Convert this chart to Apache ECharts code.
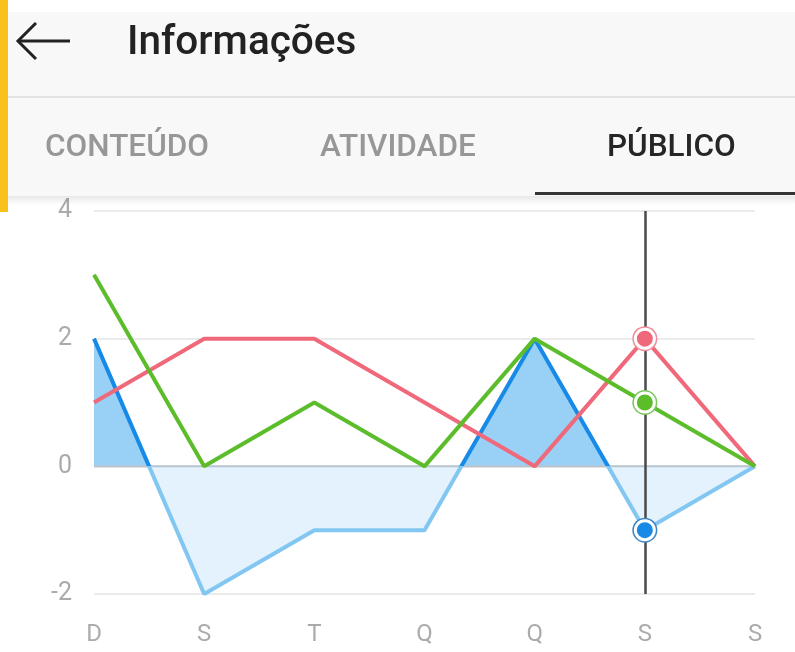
<!DOCTYPE html>
<html>
<head>
<meta charset="utf-8">
<script src="https://cdn.jsdelivr.net/npm/echarts@6/dist/echarts.min.js"></script>
<style>
html,body{margin:0;padding:0;background:#fff;}
#c{width:795px;height:652px;}
</style>
</head>
<body>
<div id="c"></div>
<script>
const days = ['D', 'S', 'T', 'Q', 'Q', 'S', 'S'];
const redValues = [1, 2, 2, 1, 0, 2, 0];
const greenValues = [3, 0, 1, 0, 2, 1, 0];
const blueValues = [2, -2, -1, -1, 2, -1, 0];
const yTicks = [-2, 0, 2, 4];
const selectedIndex = 5;
const pageTitle = 'Informações';
const tabs = ['CONTEÚDO', 'ATIVIDADE', 'PÚBLICO'];

const RED = '#f0697b', GREEN = '#5cbd2b', BLUE = '#168ae6', BLUE_LIGHT = '#82c6f2';
const AREA_POS = '#98d0f6', AREA_NEG = '#e3f2fd';
const FONT = 'Roboto, "Noto Sans", sans-serif';

const bMax = Math.max(...blueValues), bMin = Math.min(...blueValues);
const zeroOffset = bMax / (bMax - bMin);
function splitGradient(top, bottom) {
  return new echarts.graphic.LinearGradient(0, 0, 0, 1, [
    { offset: 0, color: top }, { offset: zeroOffset, color: top },
    { offset: zeroOffset, color: bottom }, { offset: 1, color: bottom }
  ]);
}

const chart = echarts.init(document.getElementById('c'));

function marker(values, color, ring) {
  return [
    { type: 'scatter', z: 10, silent: true, symbol: 'circle', symbolSize: 25,
      itemStyle: { color: ring, opacity: 1 },
      data: [[selectedIndex, values[selectedIndex]]] },
    { type: 'scatter', z: 11, silent: true, symbol: 'circle', symbolSize: 19,
      itemStyle: { color: color, borderColor: '#fff', borderWidth: 3, opacity: 1 },
      data: [[selectedIndex, values[selectedIndex]]] }
  ];
}

const option = {
  animation: false,
  backgroundColor: '#fff',
  grid: { left: 94, right: 40, top: 211, bottom: 58 },
  xAxis: {
    type: 'category', data: days, boundaryGap: false,
    axisLine: { show: false }, axisTick: { show: false },
    axisLabel: { color: '#ababab', fontSize: 24, margin: 29, fontFamily: FONT },
    splitLine: { show: false }
  },
  yAxis: {
    type: 'value', min: -2, max: 4, interval: 2,
    axisLine: { show: false }, axisTick: { show: false },
    axisLabel: { color: '#ababab', fontSize: 25, margin: 22, fontFamily: FONT,
      formatter: v => yTicks.includes(v) ? String(v) : '' },
    splitLine: { lineStyle: { color: '#e4e4e4', width: 1.5 } }
  },
  series: [
    { type: 'line', data: blueValues, showSymbol: false, z: 1, silent: true,
      lineStyle: { width: 0, opacity: 0 },
      areaStyle: { opacity: 1, origin: 0, color: splitGradient(AREA_POS, AREA_NEG) } },
    { type: 'line', data: days.map(() => 0), showSymbol: false, z: 2, silent: true,
      lineStyle: { width: 2, color: '#b8c4cf' },
      markLine: { symbol: 'none', silent: true, label: { show: false },
        lineStyle: { color: '#4a4a4a', width: 2.5, type: 'solid' },
        data: [{ xAxis: selectedIndex }] } },
    { type: 'line', data: blueValues, showSymbol: false, z: 3, silent: true,
      lineStyle: { width: 4, color: splitGradient(BLUE, BLUE_LIGHT) } },
    { type: 'line', data: redValues, showSymbol: false, z: 4, silent: true,
      lineStyle: { width: 4, color: RED }, itemStyle: { color: RED } },
    { type: 'line', data: greenValues, showSymbol: false, z: 5, silent: true,
      lineStyle: { width: 4, color: GREEN }, itemStyle: { color: GREEN } },
    ...marker(redValues, RED, '#f08d99'),
    ...marker(greenValues, GREEN, '#7ac65a'),
    ...marker(blueValues, BLUE, '#3f86c4')
  ],
  graphic: [
    { type: 'rect', z: 100, shape: { x: 8, y: 12, width: 787, height: 184 }, style: { fill: '#f8f8f8' } },
    { type: 'rect', z: 101, shape: { x: 8, y: 96, width: 787, height: 2 }, style: { fill: '#e2e2e2' } },
    { type: 'rect', z: 100, shape: { x: 8, y: 196, width: 787, height: 9 },
      style: { fill: new echarts.graphic.LinearGradient(0, 0, 0, 1, [
        { offset: 0, color: 'rgba(0,0,0,0.09)' }, { offset: 1, color: 'rgba(0,0,0,0)' }]) } },
    { type: 'rect', z: 102, shape: { x: 0, y: 0, width: 8, height: 212 }, style: { fill: '#f8c11c' } },
    { type: 'rect', z: 102, shape: { x: 535, y: 192, width: 260, height: 3 }, style: { fill: '#333' } },
    { type: 'polyline', z: 102, shape: { points: [[36, 23], [18, 41], [36, 59]] },
      style: { stroke: '#222', lineWidth: 3, fill: null } },
    { type: 'line', z: 102, shape: { x1: 19, y1: 41, x2: 70, y2: 41 },
      style: { stroke: '#222', lineWidth: 3 } },
    { type: 'text', z: 102, x: 127, y: 44,
      style: { text: pageTitle, fill: '#222', font: '500 40.5px ' + FONT, textVerticalAlign: 'middle' } },
    { type: 'text', z: 102, x: 45, y: 148,
      style: { text: tabs[0], fill: '#979797', font: '500 31.5px ' + FONT, textVerticalAlign: 'middle' } },
    { type: 'text', z: 102, x: 320, y: 148,
      style: { text: tabs[1], fill: '#979797', font: '500 31.5px ' + FONT, textVerticalAlign: 'middle' } },
    { type: 'text', z: 102, x: 607, y: 148,
      style: { text: tabs[2], fill: '#262626', font: '500 31.5px ' + FONT, textVerticalAlign: 'middle' } }
  ]
};
chart.setOption(option);
</script>
</body>
</html>
